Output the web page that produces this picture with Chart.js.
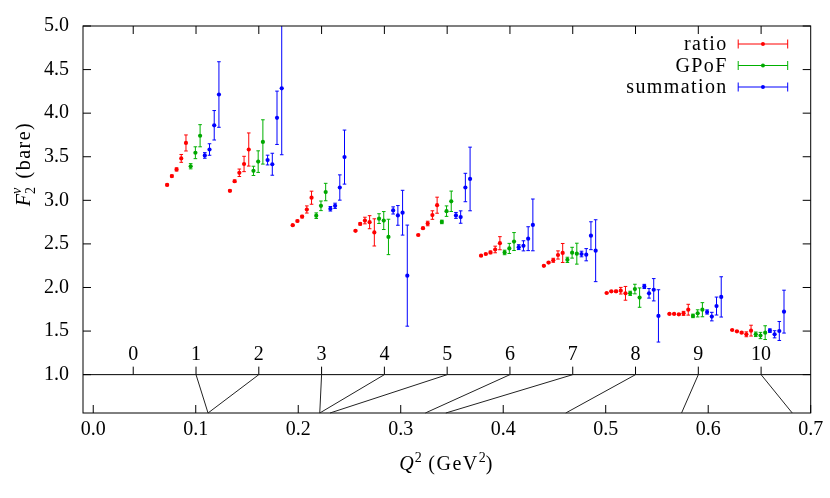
<!DOCTYPE html>
<html lang="en">
<head>
  <meta charset="UTF-8">
  <title>F2v bare vs Q2</title>
  <script src="https://cdn.jsdelivr.net/npm/chart.js"></script>
  <style>
    body { margin: 0; background: #fff; }
    .chart-container { position: relative; width: 830px; height: 498px; }
  </style>
</head>
<body>
  <div class="chart-container">
    <canvas id="f2Chart"></canvas>
  </div>

  <script>
    // Q^2 label index 1..10 and the Q^2 (GeV^2) each index stands for
    const qLabels = [1, 2, 3, 4, 5, 6, 7, 8, 9, 10];
    const q2Values = [0.112, 0.112, 0.221, 0.221, 0.231, 0.324, 0.344, 0.461, 0.574, 0.682];
    const labelTicks = [0, 1, 2, 3, 4, 5, 6, 7, 8, 9, 10];

    // horizontal offset of each point from its label index
    const ratioOffsets = [-0.46, -0.385, -0.31, -0.235, -0.16];
    const gpofOffsets = [-0.085, -0.01, 0.065];
    const sumOffsets = [0.14, 0.215, 0.29, 0.365];

    // values and errors, one row per Q^2 label
    const ratioVals = [
      [3.177, 3.278, 3.354, 3.481, 3.658],
      [3.109, 3.219, 3.316, 3.417, 3.583],
      [2.715, 2.763, 2.813, 2.895, 3.030],
      [2.650, 2.729, 2.768, 2.749, 2.632],
      [2.602, 2.681, 2.734, 2.831, 2.944],
      [2.365, 2.384, 2.402, 2.436, 2.508],
      [2.249, 2.286, 2.312, 2.373, 2.396],
      [1.937, 1.956, 1.956, 1.963, 1.933],
      [1.697, 1.697, 1.692, 1.703, 1.745],
      [1.512, 1.497, 1.482, 1.463, 1.505]
    ];
    const ratioErrs = [
      [0.010, 0.012, 0.018, 0.045, 0.092],
      [0.010, 0.015, 0.043, 0.088, 0.190],
      [0.008, 0.010, 0.015, 0.041, 0.075],
      [0.008, 0.012, 0.038, 0.075, 0.156],
      [0.008, 0.010, 0.026, 0.049, 0.092],
      [0.006, 0.008, 0.015, 0.038, 0.075],
      [0.006, 0.008, 0.023, 0.047, 0.109],
      [0.005, 0.007, 0.012, 0.038, 0.079],
      [0.004, 0.005, 0.008, 0.023, 0.062],
      [0.004, 0.006, 0.010, 0.028, 0.062]
    ];
    const gpofVals = [
      [3.391, 3.546, 3.741],
      [3.338, 3.444, 3.670],
      [2.824, 2.937, 3.095],
      [2.790, 2.768, 2.580],
      [2.752, 2.876, 2.989],
      [2.402, 2.448, 2.527],
      [2.317, 2.399, 2.388],
      [1.933, 1.982, 1.884],
      [1.674, 1.703, 1.745],
      [1.463, 1.449, 1.482]
    ];
    const gpofErrs = [
      [0.030, 0.068, 0.127],
      [0.053, 0.124, 0.254],
      [0.032, 0.055, 0.100],
      [0.056, 0.103, 0.203],
      [0.020, 0.060, 0.117],
      [0.026, 0.058, 0.103],
      [0.030, 0.062, 0.120],
      [0.024, 0.055, 0.111],
      [0.020, 0.041, 0.081],
      [0.026, 0.036, 0.079]
    ];
    const sumVals = [
      [3.515, 3.583, 3.861, 4.214],
      [3.462, 3.414, 3.947, 4.285],
      [2.903, 2.937, 3.147, 3.496],
      [2.884, 2.827, 2.858, 2.136],
      [2.827, 2.808, 3.147, 3.245],
      [2.463, 2.478, 2.560, 2.718],
      [2.384, 2.376, 2.594, 2.422],
      [2.012, 1.933, 1.974, 1.674],
      [1.719, 1.666, 1.787, 1.892],
      [1.505, 1.463, 1.501, 1.723]
    ];
    const sumErrs = [
      [0.032, 0.066, 0.169, 0.376],
      [0.056, 0.126, 0.306, 0.762],
      [0.026, 0.030, 0.145, 0.310],
      [0.041, 0.113, 0.257, 0.580],
      [0.034, 0.071, 0.163, 0.365],
      [0.028, 0.058, 0.137, 0.297],
      [0.032, 0.070, 0.160, 0.355],
      [0.024, 0.055, 0.128, 0.300],
      [0.024, 0.049, 0.103, 0.231],
      [0.020, 0.041, 0.109, 0.246]
    ];

    const xTicks = [0, 0.1, 0.2, 0.3, 0.4, 0.5, 0.6, 0.7];
    const yTicks = [1.0, 1.5, 2.0, 2.5, 3.0, 3.5, 4.0, 4.5, 5.0];

    const FONT = "'Liberation Serif', 'Times New Roman', serif";

    function buildPoints(vals, errs, offsets) {
      const pts = [];
      qLabels.forEach((q, i) => {
        vals[i].forEach((v, j) => {
          pts.push({ x: q + offsets[j], y: v, err: errs[i][j] });
        });
      });
      return pts;
    }

    // error bars under the points
    const errorBars = {
      id: 'errorBars',
      beforeDatasetsDraw(chart) {
        const { ctx, chartArea: a, scales: { x2, y } } = chart;
        ctx.save();
        ctx.beginPath();
        ctx.rect(a.left, a.top, a.right - a.left, a.bottom - a.top);
        ctx.clip();
        ctx.lineWidth = 1;
        chart.data.datasets.forEach(ds => {
          ctx.strokeStyle = ds.borderColor;
          ds.data.forEach(p => {
            const px = x2.getPixelForValue(p.x);
            const top = y.getPixelForValue(p.y + p.err);
            const bot = y.getPixelForValue(p.y - p.err);
            ctx.beginPath();
            ctx.moveTo(px, top); ctx.lineTo(px, bot);
            ctx.moveTo(px - 1.8, top); ctx.lineTo(px + 1.8, top);
            ctx.moveTo(px - 1.8, bot); ctx.lineTo(px + 1.8, bot);
            ctx.stroke();
          });
        });
        ctx.restore();
      }
    };

    // draws text pieces in a row; returns the width
    function drawPieces(ctx, pieces, x0, y0, measureOnly) {
      let x = x0;
      pieces.forEach(p => {
        ctx.font = p.font;
        ctx.letterSpacing = p.ls || '0px';
        if (!measureOnly) ctx.fillText(p.t, x, y0 + (p.dy || 0));
        x += ctx.measureText(p.t).width;
      });
      return x - x0;
    }

    // frame, ticks, Q^2 mapping, legend, titles
    const decorations = {
      id: 'decorations',
      afterDraw(chart) {
        const { ctx, chartArea: a, scales: { x, x2, y } } = chart;
        const y1 = y.getPixelForValue(1.0);
        ctx.save();
        ctx.strokeStyle = '#000';
        ctx.lineWidth = 1;

        ctx.strokeRect(a.left, a.top, a.right - a.left, a.bottom - a.top);
        ctx.beginPath();
        ctx.moveTo(a.left, y1); ctx.lineTo(a.right, y1);
        yTicks.forEach(v => {
          const py = y.getPixelForValue(v);
          ctx.moveTo(a.left, py); ctx.lineTo(a.left + 8, py);
          ctx.moveTo(a.right, py); ctx.lineTo(a.right - 8, py);
        });
        xTicks.forEach(v => {
          const px = x.getPixelForValue(v);
          ctx.moveTo(px, a.bottom); ctx.lineTo(px, a.bottom - 8);
        });
        labelTicks.forEach(v => {
          const px = x2.getPixelForValue(v);
          ctx.moveTo(px, a.top); ctx.lineTo(px, a.top + 8);
          ctx.moveTo(px, y1); ctx.lineTo(px, y1 - 8);
        });
        ctx.stroke();

        // label index -> real Q^2
        ctx.strokeStyle = '#222';
        ctx.beginPath();
        qLabels.forEach((q, i) => {
          ctx.moveTo(x2.getPixelForValue(q), y1);
          ctx.lineTo(x.getPixelForValue(q2Values[i]), a.bottom);
        });
        ctx.stroke();

        ctx.fillStyle = '#000';
        ctx.font = '20px ' + FONT;
        ctx.textAlign = 'center';
        ctx.textBaseline = 'alphabetic';
        labelTicks.forEach(v => {
          ctx.fillText(String(v), x2.getPixelForValue(v), y1 - 15);
        });

        // legend
        chart.data.datasets.forEach((ds, k) => {
          const ly = a.top + 18 + k * 21.5;
          ctx.fillStyle = '#000';
          ctx.textAlign = 'right';
          ctx.font = '20px ' + FONT;
          ctx.letterSpacing = '1.4px';
          ctx.fillText(ds.label, a.right - 83, ly + 6);
          ctx.letterSpacing = '0px';
          const l = a.right - 72.5, r = a.right - 23;
          ctx.strokeStyle = ds.borderColor;
          ctx.beginPath();
          ctx.moveTo(l, ly); ctx.lineTo(r, ly);
          ctx.moveTo(l, ly - 4.5); ctx.lineTo(l, ly + 4.5);
          ctx.moveTo(r, ly - 4.5); ctx.lineTo(r, ly + 4.5);
          ctx.stroke();
          ctx.fillStyle = ds.backgroundColor;
          ctx.beginPath();
          ctx.arc((l + r) / 2, ly, 2, 0, Math.PI * 2);
          ctx.fill();
        });

        // x title
        ctx.fillStyle = '#000';
        ctx.textAlign = 'left';
        const big = '20px ' + FONT, small = '14px ' + FONT;
        const xt = [
          { t: 'Q', font: 'italic ' + big, ls: '1px' },
          { t: '2', font: small, dy: -8 },
          { t: ' (GeV', font: big, ls: '1.5px' },
          { t: '2', font: small, dy: -8 },
          { t: ')', font: big }
        ];
        const wx = drawPieces(ctx, xt, 0, 0, true);
        drawPieces(ctx, xt, (a.left + a.right) / 2 - wx / 2 - 1, 470);

        // y title, rotated
        ctx.save();
        ctx.translate(30, 0);
        ctx.rotate(-Math.PI / 2);
        ctx.font = 'italic ' + big;
        ctx.letterSpacing = '0px';
        const fW = ctx.measureText('F').width;
        ctx.font = small;
        const sW = ctx.measureText('2').width + 2;
        ctx.font = big;
        ctx.letterSpacing = '1.5px';
        const bW = ctx.measureText(' (bare)').width;
        const total = fW + sW + bW;
        const start = -164 - total / 2;
        ctx.letterSpacing = '0px';
        ctx.font = 'italic ' + big;
        ctx.fillText('F', start, 0);
        ctx.font = small;
        ctx.fillText('2', start + fW, 5);
        ctx.font = 'italic ' + small;
        ctx.fillText('v', start + fW, -9);
        ctx.font = big;
        ctx.letterSpacing = '1.5px';
        ctx.fillText(' (bare)', start + fW + sW, 0);
        ctx.restore();

        ctx.restore();
      }
    };

    const ctx = document.getElementById('f2Chart').getContext('2d');
    const f2Chart = new Chart(ctx, {
      type: 'scatter',
      data: {
        datasets: [
          {
            label: 'ratio',
            data: buildPoints(ratioVals, ratioErrs, ratioOffsets),
            borderColor: '#ff0000',
            backgroundColor: '#ff0000',
            xAxisID: 'x2', yAxisID: 'y'
          },
          {
            label: 'GPoF',
            data: buildPoints(gpofVals, gpofErrs, gpofOffsets),
            borderColor: '#00b000',
            backgroundColor: '#00a800',
            xAxisID: 'x2', yAxisID: 'y'
          },
          {
            label: 'summation',
            data: buildPoints(sumVals, sumErrs, sumOffsets),
            borderColor: '#0000ff',
            backgroundColor: '#0000ff',
            xAxisID: 'x2', yAxisID: 'y'
          }
        ]
      },
      options: {
        responsive: true,
        maintainAspectRatio: false,
        animation: false,
        layout: { autoPadding: false, padding: { left: 0, top: 19, right: 19.3, bottom: 0 } },
        elements: { point: { radius: 2.1, borderWidth: 0, hoverRadius: 3 } },
        plugins: { legend: { display: false }, tooltip: { enabled: false } },
        scales: {
          x: {
            type: 'linear',
            position: 'bottom',
            min: -0.01,
            max: 0.7,
            afterBuildTicks: axis => { axis.ticks = xTicks.map(v => ({ value: v })); },
            afterFit: axis => { axis.height = 85; },
            ticks: {
              color: '#000',
              font: { family: FONT, size: 20 },
              padding: 5,
              maxRotation: 0,
              callback: v => v.toFixed(1)
            },
            grid: { display: false, drawTicks: false },
            border: { display: false }
          },
          x2: {
            type: 'linear',
            position: 'bottom',
            min: -0.8,
            max: 10.79,
            display: false
          },
          y: {
            type: 'linear',
            position: 'left',
            min: 0.56,
            max: 5.0,
            afterBuildTicks: axis => { axis.ticks = yTicks.map(v => ({ value: v })); },
            afterFit: axis => { axis.width = 83; },
            ticks: {
              color: '#000',
              font: { family: FONT, size: 20 },
              padding: 14,
              callback: v => v.toFixed(1)
            },
            grid: { display: false, drawTicks: false },
            border: { display: false }
          }
        }
      },
      plugins: [errorBars, decorations]
    });
  </script>
</body>
</html>
